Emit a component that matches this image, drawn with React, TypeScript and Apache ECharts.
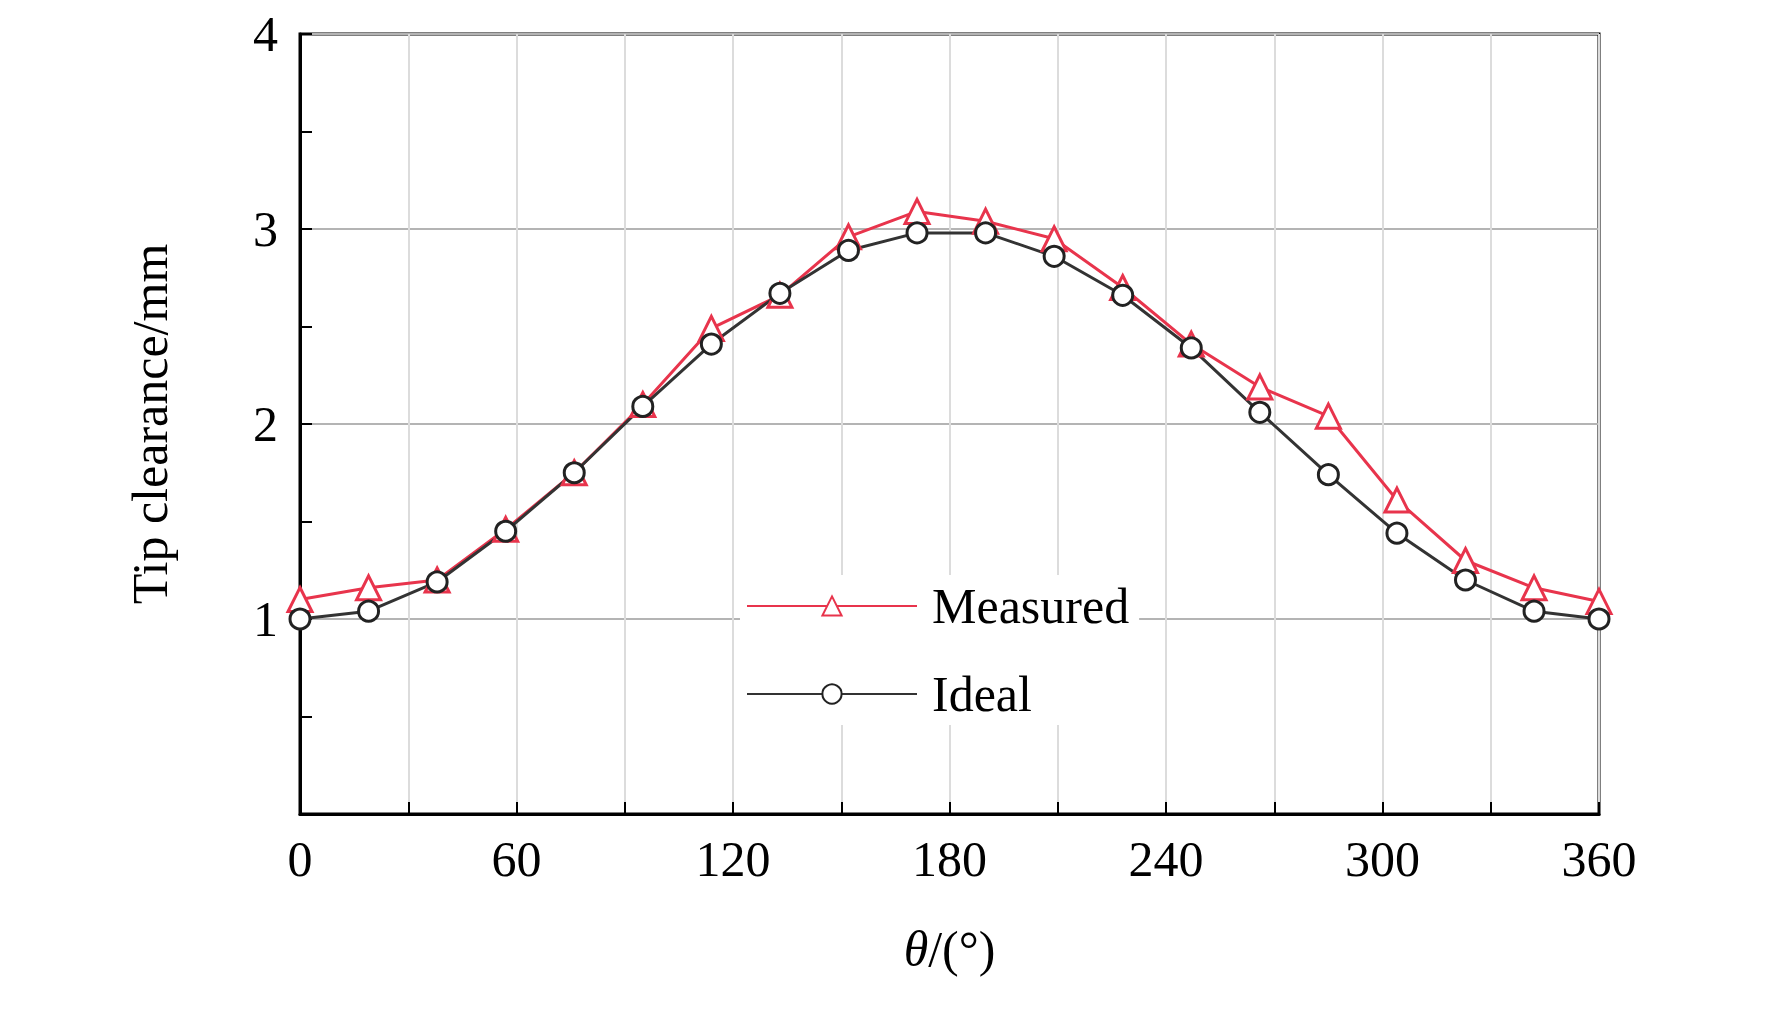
import { useEffect, useRef } from "react";
import * as echarts from "echarts";

const angles = [0, 19, 38, 57, 76, 95, 114, 133, 152, 171, 190, 209, 228, 247, 266, 285, 304, 323, 342, 360];
const measured = [1.1, 1.16, 1.2, 1.46, 1.75, 2.1, 2.49, 2.66, 2.96, 3.09, 3.04, 2.95, 2.7, 2.41, 2.19, 2.04, 1.61, 1.3, 1.16, 1.09];
const ideal = [1.0, 1.04, 1.19, 1.45, 1.75, 2.09, 2.41, 2.67, 2.89, 2.98, 2.98, 2.86, 2.66, 2.39, 2.06, 1.74, 1.44, 1.2, 1.04, 1.0];

const FONT = "Liberation Serif";
const RED = "#e8344c";

export default function App() {
  const ref = useRef<HTMLDivElement>(null);
  useEffect(() => {
    document.body.style.margin = "0";
    if (!ref.current) return;
    const chart = echarts.init(ref.current, undefined, { renderer: "svg" });
    chart.setOption({
      animation: false,
      backgroundColor: "#fff",
      textStyle: { fontFamily: FONT },
      grid: { left: 300, right: 173, top: 34, bottom: 196, show: true, borderColor: "#000", borderWidth: 3, backgroundColor: "transparent" },
      legend: {
        left: 740,
        top: 575,
        orient: "vertical",
        itemWidth: 170,
        itemHeight: 24,
        itemGap: 38,
        backgroundColor: "#fff",
        padding: [6, 10, 6, 6],
        textStyle: { fontFamily: FONT, fontSize: 50, color: "#000", padding: [0, 0, 0, 10] },
        data: ["Measured", "Ideal"],
      },
      xAxis: {
        type: "value",
        min: 0,
        max: 360,
        interval: 30,
        name: "{i|θ}/(°)",
        nameLocation: "middle",
        nameGap: 110,
        nameTextStyle: { fontFamily: FONT, fontSize: 50, color: "#000", rich: { i: { fontFamily: FONT, fontStyle: "italic", fontSize: 50 } } },
        axisLine: { lineStyle: { color: "#000", width: 3 } },
        axisTick: { inside: true, length: 12, lineStyle: { color: "#000", width: 2 } },
        axisLabel: { fontFamily: FONT, fontSize: 50, color: "#000", margin: 20, formatter: (v: number) => (v % 60 === 0 ? String(v) : "") },
        splitLine: { show: true, lineStyle: { color: "#dcdcdc", width: 2 } },
      },
      yAxis: {
        type: "value",
        min: 0,
        max: 4,
        interval: 1,
        name: "Tip clearance/mm",
        nameLocation: "middle",
        nameGap: 125,
        nameTextStyle: { fontFamily: FONT, fontSize: 50, color: "#000" },
        axisLine: { show: true, lineStyle: { color: "#000", width: 3 } },
        axisTick: { inside: true, length: 12, lineStyle: { color: "#000", width: 2 } },
        minorTick: { show: true, splitNumber: 2, length: 12, lineStyle: { color: "#000", width: 2 } },
        axisLabel: { fontFamily: FONT, fontSize: 50, color: "#000", margin: 22, formatter: (v: number) => (v === 0 ? "" : String(v)) },
        splitLine: { show: true, lineStyle: { color: "#b4b4b4", width: 2 } },
      },
      series: [
        {
          name: "Measured",
          type: "line",
          data: angles.map((a, i) => [a, measured[i]]),
          symbol: "triangle",
          symbolSize: 24,
          color: RED,
          lineStyle: { color: RED, width: 3 },
          itemStyle: { color: "#fff", borderColor: RED, borderWidth: 3 },
        },
        {
          name: "Ideal",
          type: "line",
          data: angles.map((a, i) => [a, ideal[i]]),
          symbol: "circle",
          symbolSize: 20,
          color: "#333",
          lineStyle: { color: "#333", width: 3 },
          itemStyle: { color: "#fff", borderColor: "#222", borderWidth: 3 },
        },
      ],
    });
    return () => chart.dispose();
  }, []);
  return <div ref={ref} style={{ width: 1772, height: 1010 }} />;
}
